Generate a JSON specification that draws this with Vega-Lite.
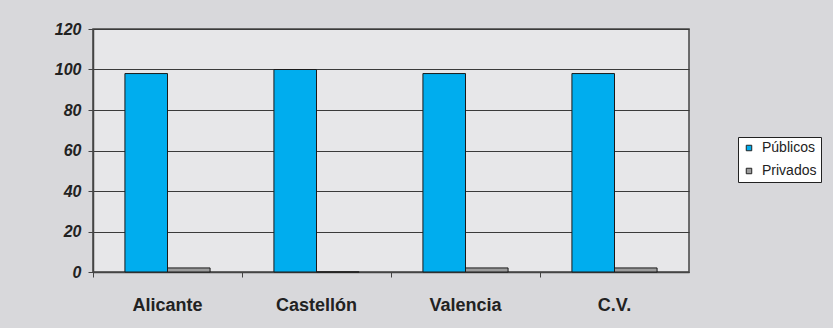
{
  "$schema": "https://vega.github.io/schema/vega-lite/v6.json",
  "width": 596,
  "height": 243,
  "autosize": {"type": "none"},
  "padding": {"left": 93, "top": 29, "right": 144, "bottom": 56},
  "background": "#d8d8db",
  "data": {
    "values": [
      {"region": "Alicante", "tipo": "Públicos", "valor": 98},
      {"region": "Alicante", "tipo": "Privados", "valor": 2},
      {"region": "Castellón", "tipo": "Públicos", "valor": 100},
      {"region": "Castellón", "tipo": "Privados", "valor": 0},
      {"region": "Valencia", "tipo": "Públicos", "valor": 98},
      {"region": "Valencia", "tipo": "Privados", "valor": 2},
      {"region": "C.V.", "tipo": "Públicos", "valor": 98},
      {"region": "C.V.", "tipo": "Privados", "valor": 2}
    ]
  },
  "mark": {"type": "bar", "stroke": "#1a1a1a", "strokeWidth": 1},
  "encoding": {
    "x": {
      "field": "region",
      "type": "nominal",
      "sort": ["Alicante", "Castellón", "Valencia", "C.V."],
      "scale": {"paddingInner": 0, "paddingOuter": 0},
      "axis": {
        "title": null,
        "labelAngle": 0,
        "labelFont": "Liberation Sans",
        "labelFontSize": 18,
        "labelFontWeight": "bold",
        "labelColor": "#222222",
        "labelPadding": 19,
        "bandPosition": 0,
        "tickSize": 5,
        "tickColor": "#444444",
        "domainColor": "#444444",
        "domainWidth": 1.5,
        "grid": false
      }
    },
    "xOffset": {
      "field": "tipo",
      "type": "nominal",
      "sort": ["Públicos", "Privados"],
      "scale": {"paddingInner": 0, "paddingOuter": 0.75}
    },
    "y": {
      "field": "valor",
      "type": "quantitative",
      "scale": {"domain": [0, 120], "nice": false},
      "axis": {
        "title": null,
        "values": [0, 20, 40, 60, 80, 100, 120],
        "labelFont": "Liberation Sans",
        "labelFontSize": 16,
        "labelFontWeight": "bold",
        "labelFontStyle": "italic",
        "labelColor": "#222222",
        "labelPadding": 7,
        "tickSize": 5,
        "tickColor": "#444444",
        "domainColor": "#444444",
        "domainWidth": 1.5,
        "grid": true,
        "gridColor": "#3a3a3a",
        "gridWidth": 1,
        "gridOpacity": 1
      }
    },
    "color": {
      "field": "tipo",
      "type": "nominal",
      "sort": ["Públicos", "Privados"],
      "scale": {"domain": ["Públicos", "Privados"], "range": ["#00adee", "#9c9c9c"]},
      "legend": {
        "title": null,
        "orient": "none",
        "legendX": 645,
        "legendY": 108,
        "symbolType": "square",
        "symbolSize": 30,
        "symbolStrokeColor": "#222222",
        "symbolStrokeWidth": 1,
        "labelFont": "Liberation Sans",
        "labelFontSize": 14,
        "labelColor": "#222222",
        "labelOffset": 6,
        "rowPadding": 9,
        "padding": 4,
        "fillColor": "#ffffff",
        "strokeColor": "#222222"
      }
    }
  },
  "config": {
    "view": {"fill": "#e7e7e9", "stroke": "#444444", "strokeWidth": 1.5}
  }
}
